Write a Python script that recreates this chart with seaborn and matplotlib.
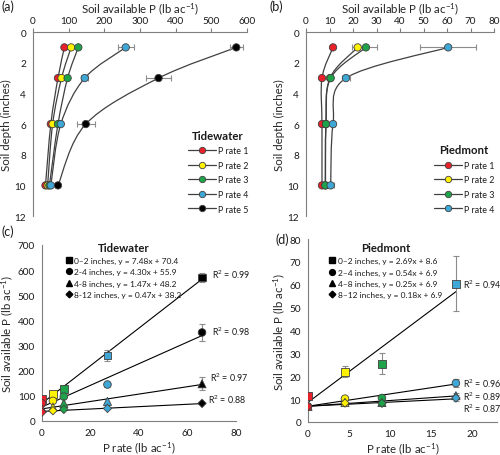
import numpy as np
import pandas as pd
import matplotlib
matplotlib.use('Agg')
import matplotlib.pyplot as plt
from matplotlib.path import Path
from matplotlib.patches import PathPatch
from matplotlib.lines import Line2D
import seaborn as sns

# P rates applied (lb ac-1)
tw_rates = [0, 4.5, 9, 27, 66]
pd_rates = [0, 4.5, 9, 18]

# sampling depth midpoints (inches) and depth classes
depths = [1, 3, 6, 10]
tw_depth_names = ['0–2 inches', '2-4 inches', '4-8 inches', '8-12 inches']
pd_depth_names = ['0–2 inches', '2–4 inches', '4–8 inches', '8–12 inches']

tw_rate_names = ['P rate 1', 'P rate 2', 'P rate 3', 'P rate 4', 'P rate 5']
pd_rate_names = ['P rate 1', 'P rate 2', 'P rate 3', 'P rate 4']

# soil available P, rows = P rate, cols = depth
tw_P = [
    [88, 70, 50, 35],
    [107, 80, 55, 41],
    [127, 97, 70, 46],
    [260, 145, 78, 50],
    [570, 352, 148, 70],
]
tw_err = [
    [0, 0, 0, 0],
    [0, 0, 0, 0],
    [0, 0, 0, 0],
    [22, 10, 0, 0],
    [18, 35, 25, 0],
]
pd_P = [
    [11.5, 6.8, 6.8, 6.8],
    [22.0, 10.2, 8.5, 8.3],
    [25.5, 10.5, 8.5, 8.2],
    [60.5, 17.0, 11.5, 10.5],
]
pd_err = [
    [0, 0, 0, 0],
    [2.5, 0, 0, 0],
    [4.7, 0, 0, 0],
    [12, 1.8, 1.0, 1.5],
]

# linear fits per depth class
tw_slope = [7.48, 4.30, 1.47, 0.47]
tw_icpt = [70.4, 55.9, 48.2, 38.2]
tw_r2 = ['0.99', '0.98', '0.97', '0.88']
pd_slope = [2.69, 0.54, 0.25, 0.18]
pd_icpt = [8.6, 6.9, 6.9, 6.9]
pd_r2 = ['0.94', '0.96', '0.89', '0.87']

sns.set_theme(style='white')
plt.rcParams['font.family'] = ['Lato', 'DejaVu Sans']
plt.rcParams['mathtext.default'] = 'regular'
plt.rcParams['text.color'] = '#1a1a1a'

colors = ['#e8202a', '#fff200', '#1fa34a', '#3fa7d6', '#000000']
markers = ['s', 'o', '^', 'D']
msizes = [30, 30, 34, 18]
edge = '#404040'
axcol = '#7f7f7f'
errcol = '#8c8c8c'
FS = 8.3
TK = 7.2
LG = 6.0

xlab = 'Soil available P (lb ac$^{-1}$)'


def long_df(P, err, rates, rate_names, depth_names):
    rows = []
    for i, name in enumerate(rate_names):
        for j, d in enumerate(depths):
            rows.append({'rate_name': name, 'rate': rates[i], 'depth': d,
                         'depth_name': depth_names[j], 'P': P[i][j], 'err': err[i][j]})
    return pd.DataFrame(rows)


def smooth_line(ax, xs, ys, color):
    # Excel-style smoothed line through the points (cubic Bezier segments)
    pts = np.column_stack([xs, ys]).astype(float)
    n = len(pts)
    verts = [pts[0]]
    codes = [Path.MOVETO]
    for i in range(n - 1):
        p0 = pts[max(i - 1, 0)]
        p1 = pts[i]
        p2 = pts[i + 1]
        p3 = pts[min(i + 2, n - 1)]
        verts += [p1 + (p2 - p0) / 6, p2 - (p3 - p1) / 6, p2]
        codes += [Path.CURVE4] * 3
    ax.add_patch(PathPatch(Path(verts, codes), fill=False, edgecolor=color, lw=0.9, zorder=1))


def style_axes(ax, top=False):
    for s in ax.spines.values():
        s.set_color(axcol)
        s.set_linewidth(0.8)
    ax.spines['right'].set_visible(False)
    if top:
        ax.spines['bottom'].set_visible(False)
        ax.xaxis.tick_top()
        ax.xaxis.set_label_position('top')
    else:
        ax.spines['top'].set_visible(False)
    ax.tick_params(direction='out', length=3, width=0.8, color=axcol,
                   labelsize=TK, labelcolor='#1a1a1a', pad=2)
    ax.set_facecolor('white')


def depth_panel(ax, df, rate_names, xmax, title):
    for i, name in enumerate(rate_names):
        sub = df[df.rate_name == name]
        smooth_line(ax, sub.P.values, sub.depth.values, edge)
        e = sub[sub.err > 0]
        ax.errorbar(e.P, e.depth, xerr=e.err, fmt='none', ecolor=errcol,
                    elinewidth=0.8, capsize=2, capthick=0.8, zorder=2)
    sns.scatterplot(data=df, x='P', y='depth', hue='rate_name',
                    palette=colors[:len(rate_names)], s=28, edgecolor=edge,
                    linewidth=0.6, legend=False, zorder=3, ax=ax)
    ax.set_xlim(0, xmax)
    ax.set_ylim(12, 0)
    ax.set_yticks(range(0, 13, 2))
    ax.set_xlabel(xlab, fontsize=FS, labelpad=3)
    ax.set_ylabel('Soil depth (inches)', fontsize=FS, labelpad=2)
    style_axes(ax, top=True)
    handles = [Line2D([0], [0], color=edge, lw=0.9, marker='o', markersize=4.6,
                      markerfacecolor=colors[i], markeredgecolor=edge, markeredgewidth=0.6)
               for i in range(len(rate_names))]
    ax.legend(handles, rate_names, title=title, loc='lower right',
              bbox_to_anchor=(1.035, -0.02), frameon=False, fontsize=LG + 0.4,
              title_fontproperties={'weight': 'bold', 'size': 8.2},
              handlelength=3.2, handletextpad=0.2, labelspacing=0.62, borderpad=0.2)


def rate_panel(ax, df, rate_names, depth_names, slopes, icpts, r2, rmax,
               xmax, ymax, ystep, xstep, title, r2_offsets, legend_anchor):
    for j, d in enumerate(depths):
        xs = np.array([0, rmax])
        sns.lineplot(x=xs, y=slopes[j] * xs + icpts[j], color='black', lw=0.8,
                     ax=ax, zorder=1)
        sub = df[(df.depth == d) & (df.err > 0)]
        ax.errorbar(sub.rate, sub.P, yerr=sub.err, fmt='none', ecolor=errcol,
                    elinewidth=0.8, capsize=2, capthick=0.8, zorder=2)
        last = df[(df.depth == d) & (df.rate == rmax)]
        ax.annotate('R$^2$ = ' + r2[j], (rmax, last.P.values[0]),
                    xytext=r2_offsets[j], textcoords='offset points',
                    fontsize=6.4, va='center', ha='left')
    for j, d in enumerate(depths):
        sns.scatterplot(data=df[df.depth == d], x='rate', y='P', hue='rate_name',
                        palette=colors[:len(rate_names)], marker=markers[j],
                        s=msizes[j], edgecolor=edge, linewidth=0.6, legend=False,
                        zorder=3 + j * 0.01, ax=ax)
    ax.set_xlim(0, xmax)
    ax.set_ylim(0, ymax)
    ax.set_xticks(np.arange(0, min(xmax, 80) + 0.01, xstep))
    ax.set_yticks(np.arange(0, ymax + 1, ystep))
    ax.set_xlabel('P rate (lb ac$^{-1}$)', fontsize=FS, labelpad=1.5)
    ax.set_ylabel(xlab, fontsize=FS, labelpad=2)
    style_axes(ax, top=False)
    handles = [Line2D([0], [0], ls='none', marker=markers[j], color='black',
                      markersize=4.2 if markers[j] != 'D' else 3.4)
               for j in range(len(depths))]
    labels = ['%s, y = %.2fx + %.1f' % (depth_names[j], slopes[j], icpts[j])
              for j in range(len(depths))]
    ax.legend(handles, labels, title=title, loc='upper left',
              bbox_to_anchor=legend_anchor, frameon=False, fontsize=LG,
              title_fontproperties={'weight': 'bold', 'size': 8.2},
              handlelength=0.8, handletextpad=0.3, labelspacing=0.5, borderpad=0.2)


tw = long_df(tw_P, tw_err, tw_rates, tw_rate_names, tw_depth_names)
pdm = long_df(pd_P, pd_err, pd_rates, pd_rate_names, pd_depth_names)

fig = plt.figure(figsize=(5, 4.56), dpi=100)
fig.patch.set_facecolor('white')
ax_a = fig.add_axes([0.066, 0.524, 0.428, 0.4035])
ax_b = fig.add_axes([0.612, 0.524, 0.376, 0.4035])
ax_c = fig.add_axes([0.084, 0.0746, 0.388, 0.386])
ax_d = fig.add_axes([0.616, 0.0724, 0.378, 0.401])

depth_panel(ax_a, tw, tw_rate_names, 600, 'Tidewater')
ax_a.set_xticks(range(0, 601, 100))
depth_panel(ax_b, pdm, pd_rate_names, 80, 'Piedmont')
ax_b.set_xticks(range(0, 81, 10))

rate_panel(ax_c, tw, tw_rate_names, tw_depth_names, tw_slope, tw_icpt, tw_r2, 66,
           80, 700, 100, 20, 'Tidewater',
           [(7, 3), (7, 1), (6, 5), (4, 3)], (0.09, 1.05))
rate_panel(ax_d, pdm, pd_rate_names, pd_depth_names, pd_slope, pd_icpt, pd_r2, 18,
           23, 80, 10, 5, 'Piedmont',
           [(5, 0), (5, 0), (5, 0), (5, -7)], (0.08, 1.015))
ax_d.set_xticks(range(0, 21, 5))

fig.text(0.002, 0.985, '(a)', fontsize=9, va='center')
fig.text(0.538, 0.985, '(b)', fontsize=9, va='center')
fig.text(0.002, 0.491, '(c)', fontsize=9, va='center')
fig.text(0.552, 0.474, '(d)', fontsize=9, va='center')

fig.savefig('out.png', dpi=100, facecolor='white')
